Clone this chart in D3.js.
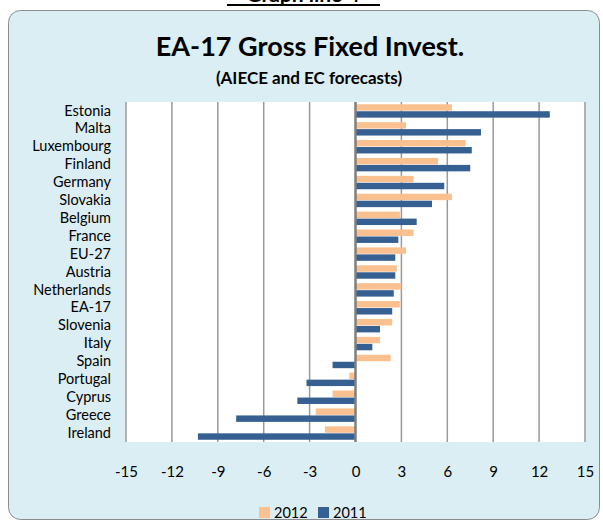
<!DOCTYPE html>
<html><head><meta charset="utf-8">
<script src="https://cdn.jsdelivr.net/npm/d3@7"></script>
<style>body{margin:0;background:#fff;}svg{display:block;font-family:Lato,"Open Sans",sans-serif;}</style>
</head><body>
<script>
const categories = ["Estonia","Malta","Luxembourg","Finland","Germany","Slovakia","Belgium","France","EU-27","Austria","Netherlands","EA-17","Slovenia","Italy","Spain","Portugal","Cyprus","Greece","Ireland"];
const values2012 = [6.3,3.3,7.2,5.4,3.8,6.3,2.9,3.8,3.3,2.7,3.0,2.9,2.4,1.6,2.3,-0.4,-1.5,-2.6,-2.0];
const values2011 = [12.7,8.2,7.6,7.5,5.8,5.0,4.0,2.8,2.6,2.6,2.5,2.4,1.6,1.1,-1.5,-3.2,-3.8,-7.8,-10.3];
const ticks = [-15,-12,-9,-6,-3,0,3,6,9,12,15];
const seriesNames = ["2012","2011"];
const colors = ["#FAC090","#376092"];

(function(){
const W=603,H=528;
const svg=d3.select("body").append("svg").attr("width",W).attr("height",H);

// top cut-off heading
svg.append("text").attr("x",303).attr("y",2).attr("text-anchor","middle")
  .attr("font-size",21).attr("font-weight","bold").attr("fill","#000").text("Graph line 4");
svg.append("rect").attr("x",227).attr("y",4).attr("width",153).attr("height",2).attr("fill","#000");

// panel
svg.append("rect").attr("x",8.5).attr("y",10.5).attr("width",591).attr("height",509)
  .attr("rx",12).attr("fill","#DBEEF4").attr("stroke","#8c8c8c").attr("stroke-width",1);

svg.append("text").attr("x",310).attr("y",56).attr("text-anchor","middle")
  .attr("font-size",27).attr("font-weight","bold").attr("fill","#000").text("EA-17 Gross Fixed Invest.");
svg.append("text").attr("x",309).attr("y",84).attr("text-anchor","middle")
  .attr("font-size",17).attr("font-weight","bold").attr("fill","#000").text("(AIECE and EC forecasts)");

const pL=126,pR=585,pT=102,pB=442;
const x=d3.scaleLinear().domain([-15,15]).range([pL,pR]);
const y=d3.scaleBand().domain(categories).range([pT,pB]).paddingInner(0.25).paddingOuter(0.125);
const yInner=d3.scaleBand().domain(seriesNames).range([0,y.bandwidth()]).paddingInner(0.08);

svg.append("rect").attr("x",pL).attr("y",pT).attr("width",pR-pL).attr("height",pB-pT).attr("fill","#fff");

// gridlines
svg.append("g").selectAll("line").data(ticks.filter(t=>t!==0)).join("line")
  .attr("x1",d=>x(d)).attr("x2",d=>x(d)).attr("y1",pT).attr("y2",pB)
  .attr("stroke","#9a9a9a").attr("stroke-width",1.5);

// bars
const series=[values2012,values2011];
series.forEach((vals,si)=>{
  svg.append("g").selectAll("rect").data(categories).join("rect")
    .attr("x",(d,i)=>x(Math.min(0,vals[i])))
    .attr("width",(d,i)=>Math.abs(x(vals[i])-x(0)))
    .attr("y",d=>y(d)+yInner(seriesNames[si]))
    .attr("height",yInner.bandwidth())
    .attr("fill",colors[si]);
});

// zero line
svg.append("line").attr("x1",x(0)).attr("x2",x(0)).attr("y1",pT).attr("y2",pB)
  .attr("stroke","#7f7f7f").attr("stroke-width",2.5);

// x axis tick labels
const xAxis=d3.axisBottom(x).tickValues(ticks).tickSize(0).tickPadding(0).tickFormat(d=>String(d));
const gx=svg.append("g").attr("transform",`translate(0,477)`).call(xAxis);
gx.select(".domain").remove();
gx.selectAll("text").attr("dy",0).attr("y",0).attr("font-size",15).attr("fill","#000").attr("font-family","Lato,sans-serif");

// y axis labels
const yAxis=d3.axisLeft(y).tickSize(0).tickPadding(15);
const gy=svg.append("g").attr("transform",`translate(${pL},0)`).call(yAxis);
gy.select(".domain").remove();
gy.selectAll("text").attr("font-size",14.5).attr("fill","#000").attr("font-family","Lato,sans-serif");

// legend
const lg=svg.append("g").attr("transform","translate(259,507)");
seriesNames.forEach((n,i)=>{
  const g=lg.append("g").attr("transform",`translate(${i*59},0)`);
  g.append("rect").attr("width",11).attr("height",11).attr("fill",colors[i]);
  g.append("text").attr("x",15).attr("y",11).attr("font-size",14.5).attr("fill","#000").text(n);
});
})();
</script>
</body></html>
